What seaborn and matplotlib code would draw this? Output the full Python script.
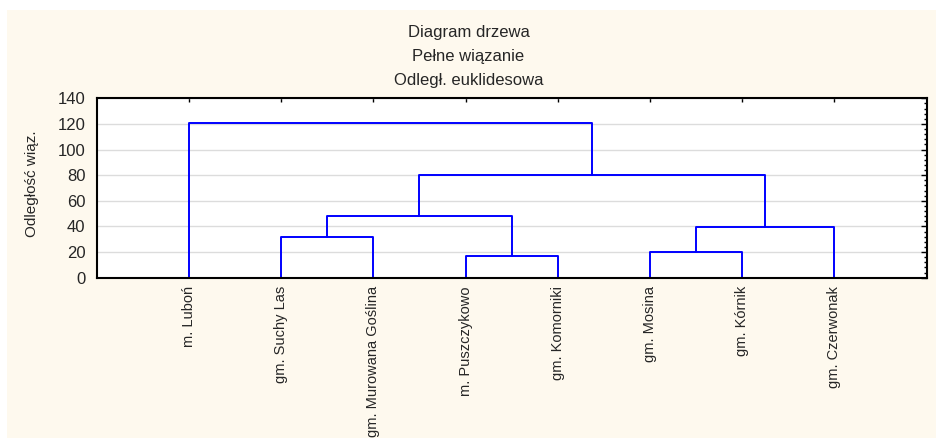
import numpy as np
import pandas as pd
import matplotlib
matplotlib.use("Agg")
import matplotlib.pyplot as plt
import seaborn as sns
from matplotlib.ticker import MultipleLocator
from matplotlib.patches import Rectangle

# ---- data ----
leaves = ["m. Luboń", "gm. Suchy Las", "gm. Murowana Goślina", "m. Puszczykowo",
          "gm. Komorniki", "gm. Mosina", "gm. Kórnik", "gm. Czerwonak"]
# merges: node ids 0..7 are leaves, 8.. are clusters in merge order
merge_a = [1, 3, 5, 10, 8, 12, 0]
merge_b = [2, 4, 6, 7, 9, 11, 13]
merge_height = [31.5, 16.7, 19.8, 39.6, 48.3, 80.5, 120.5]
title_lines = ["Diagram drzewa", "Pełne wiązanie", "Odległ. euklidesowa"]
y_label = "Odległość wiąz."
y_ticks = [0, 20, 40, 60, 80, 100, 120, 140]

# ---- build link segments ----
pos = {i: i + 1 for i in range(len(leaves))}
hgt = {i: 0.0 for i in range(len(leaves))}
rows = []
for k, (a, b, h) in enumerate(zip(merge_a, merge_b, merge_height)):
    node = len(leaves) + k
    xa, xb = pos[a], pos[b]
    rows += [(k, xa, hgt[a]), (k, xa, h), (k, xb, h), (k, xb, hgt[b])]
    pos[node] = (xa + xb) / 2
    hgt[node] = h
df = pd.DataFrame(rows, columns=["link", "x", "y"])

sns.set_style("white")
plt.rcParams["font.family"] = ["Liberation Sans", "DejaVu Sans"]

W, H = 937, 438
fig = plt.figure(figsize=(W / 100, H / 100), dpi=100, facecolor="white")
fig.patches.append(Rectangle((7 / W, 0), 1, (H - 10) / H, transform=fig.transFigure,
                             facecolor="#FEF9EE", edgecolor="none", zorder=-10))

left, right, top, bottom = 96.7, 926.7, 98.3, 277.7
ax = fig.add_axes([left / W, 1 - bottom / H, (right - left) / W, (bottom - top) / H])
ax.set_facecolor("white")

sns.lineplot(data=df, x="x", y="y", units="link", estimator=None, sort=False,
             color="#0000FF", lw=1.4, ax=ax, legend=False)

ax.set_xlim(0, 9)
ax.set_ylim(0, 140)
ax.set_xticks(range(1, len(leaves) + 1))
ax.set_xticklabels(leaves, rotation=90, fontsize=10.5)
ax.set_yticks(y_ticks)
ax.set_yticklabels([str(v) for v in y_ticks], fontsize=12)
ax.yaxis.set_minor_locator(MultipleLocator(4))
ax.set_xlabel("")
ax.set_ylabel("")

ax.tick_params(axis="both", which="both", direction="in", top=True, right=True,
               labeltop=False, labelright=False, color="black", width=1.0)
ax.tick_params(axis="x", which="major", length=3, pad=6)
ax.tick_params(axis="y", which="major", length=4, pad=8)
ax.tick_params(axis="y", which="minor", length=2)
ax.tick_params(axis="x", which="minor", bottom=False, top=False)

ax.yaxis.grid(True, color="#DCDCDC", lw=1.0)
ax.xaxis.grid(False)
ax.set_axisbelow(True)
for s in ax.spines.values():
    s.set_visible(True)
    s.set_color("black")
    s.set_linewidth(1.5)

title_y = [33, 57, 80]
for t, yy in zip(title_lines, title_y):
    fig.text(0.5, 1 - yy / H, t, ha="center", va="center", fontsize=12)

fig.text(32 / W, 1 - 184 / H, y_label, ha="center", va="center", rotation=90, fontsize=11)

fig.savefig("out.png", dpi=100, facecolor="white")
